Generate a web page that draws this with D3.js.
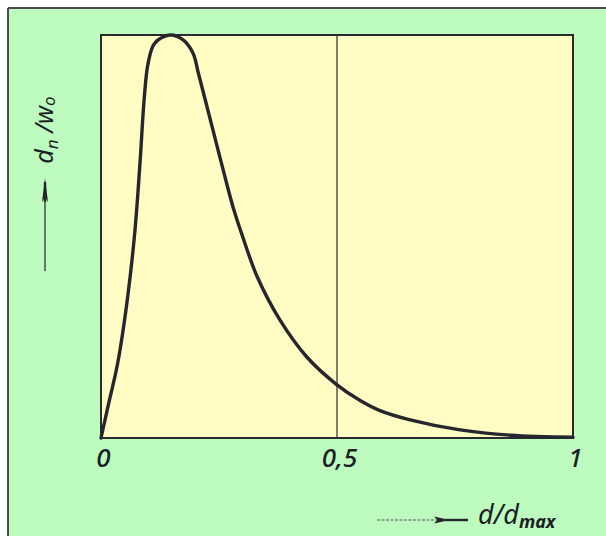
<!DOCTYPE html>
<html>
<head>
<meta charset="utf-8">
<script src="https://cdn.jsdelivr.net/npm/d3@7"></script>
<style>
  html, body { margin: 0; padding: 0; background: #ffffff; }
  svg { display: block; }
  .lbl { font-family: "Noto Sans", "Open Sans", sans-serif; font-style: italic; font-weight: 500; fill: #1e1e28; }
</style>
</head>
<body>
<svg id="chart" width="606" height="536"></svg>
<script>
// Relative particle size d/dmax and normalised number distribution dn/wo
const sizeRatio = [0, 0.0155, 0.0354, 0.0565, 0.072, 0.0826, 0.0918, 0.100, 0.114, 0.146, 0.174, 0.195, 0.206, 0.237, 0.258, 0.280, 0.300, 0.331, 0.379, 0.436, 0.500, 0.549, 0.591, 0.655, 0.761, 0.867, 1.000];
const numberFraction = [0, 0.082, 0.186, 0.350, 0.516, 0.682, 0.846, 0.931, 0.980, 1.000, 0.988, 0.955, 0.907, 0.765, 0.669, 0.572, 0.500, 0.400, 0.293, 0.201, 0.132, 0.093, 0.068, 0.045, 0.020, 0.007, 0.002];
const xTickValues = [0, 0.5, 1];
const xTickLabels = ["0", "0,5", "1"];
const markerX = [0.5];

const svg = d3.select("#chart");
const W = 606, H = 536;
const plot = { left: 101, right: 573, top: 35, bottom: 438 };

// page background and outer frame
svg.append("rect").attr("x", 9).attr("y", 9).attr("width", W - 9).attr("height", H - 9).attr("fill", "#bdfbbf");
svg.append("line").attr("x1", 8).attr("x2", 8).attr("y1", 8).attr("y2", H).attr("stroke", "#4a4a4a").attr("stroke-width", 2);
svg.append("line").attr("x1", 8).attr("x2", W).attr("y1", 8).attr("y2", 8).attr("stroke", "#4a4a4a").attr("stroke-width", 2);

const x = d3.scaleLinear().domain([0, 1]).range([plot.left, plot.right]);
const y = d3.scaleLinear().domain([0, 1]).range([plot.bottom, plot.top]);

// plot area
svg.append("rect")
  .attr("x", plot.left).attr("y", plot.top)
  .attr("width", plot.right - plot.left).attr("height", plot.bottom - plot.top)
  .attr("fill", "#fffcc4").attr("stroke", "#2a2a30").attr("stroke-width", 2);

// marker at d/dmax = 0.5
svg.selectAll("line.marker").data(markerX).enter().append("line")
  .attr("class", "marker")
  .attr("x1", d => x(d)).attr("x2", d => x(d))
  .attr("y1", plot.top).attr("y2", plot.bottom)
  .attr("stroke", "#2a2a30").attr("stroke-width", 1.2);

// distribution curve
const pts = sizeRatio.map((d, i) => [d, numberFraction[i]]);
const line = d3.line().x(d => x(d[0])).y(d => y(d[1])).curve(d3.curveCatmullRom.alpha(0.5));
svg.append("path").datum(pts)
  .attr("d", line)
  .attr("fill", "none").attr("stroke", "#26262e").attr("stroke-width", 3.4)
  .attr("stroke-linejoin", "round").attr("stroke-linecap", "round");

// x axis labels
const xAxis = d3.axisBottom(x)
  .tickValues(xTickValues)
  .tickSize(0)
  .tickPadding(0)
  .tickFormat((d, i) => xTickLabels[i]);
const gx = svg.append("g").attr("transform", `translate(2,${plot.bottom})`).call(xAxis);
gx.select(".domain").remove();
gx.selectAll("text")
  .attr("class", "lbl")
  .attr("dy", null)
  .attr("y", 29)
  .style("font-size", "26px")
  .style("font-family", "'Noto Sans', 'Open Sans', sans-serif")
  .style("font-style", "italic")
  .style("font-weight", "500")
  .attr("fill", "#1e1e28");

// arrow heads
function arrowHead(tipX, tipY, dir, len, half) {
  let p;
  if (dir === "right") p = [[tipX, tipY], [tipX - len, tipY - half], [tipX - len * 0.8, tipY], [tipX - len, tipY + half]];
  else p = [[tipX, tipY], [tipX - half, tipY + len], [tipX, tipY + len * 0.8], [tipX + half, tipY + len]];
  svg.append("path").attr("d", "M" + p.map(q => q.join(",")).join("L") + "Z").attr("fill", "#26262e");
}

// x axis title with arrow
svg.append("line").attr("x1", 377).attr("x2", 452).attr("y1", 520).attr("y2", 520)
  .attr("stroke", "#55555a").attr("stroke-width", 1).attr("stroke-dasharray", "3,1.5");
svg.append("line").attr("x1", 445).attr("x2", 468).attr("y1", 520).attr("y2", 520)
  .attr("stroke", "#26262e").attr("stroke-width", 2.4);
arrowHead(450, 520, "right", 16, 3.5);

const xt = svg.append("text").attr("class", "lbl").attr("x", 478).attr("y", 524).style("font-size", "27px").style("font-weight", "400");
xt.append("tspan").text("d/d");
xt.append("tspan").attr("baseline-shift", "-20%").style("font-size", "18px").style("font-weight", "700").text("max");

// y axis title with arrow
svg.append("line").attr("x1", 45).attr("x2", 45).attr("y1", 271).attr("y2", 190)
  .attr("stroke", "#26262e").attr("stroke-width", 1.2);
svg.append("line").attr("x1", 45).attr("x2", 45).attr("y1", 202).attr("y2", 182)
  .attr("stroke", "#26262e").attr("stroke-width", 2.4);
arrowHead(45, 178, "up", 24, 3);

const yt = svg.append("text").attr("class", "lbl")
  .attr("transform", "translate(53,130) rotate(-90)")
  .attr("text-anchor", "middle")
  .style("font-size", "25px")
  .style("font-weight", "400");
yt.append("tspan").text("d");
yt.append("tspan").attr("baseline-shift", "-28%").style("font-size", "17px").text("n");
yt.append("tspan").text(" /w");
yt.append("tspan").attr("baseline-shift", "-10%").style("font-size", "17px").text("o");
</script>
</body>
</html>
